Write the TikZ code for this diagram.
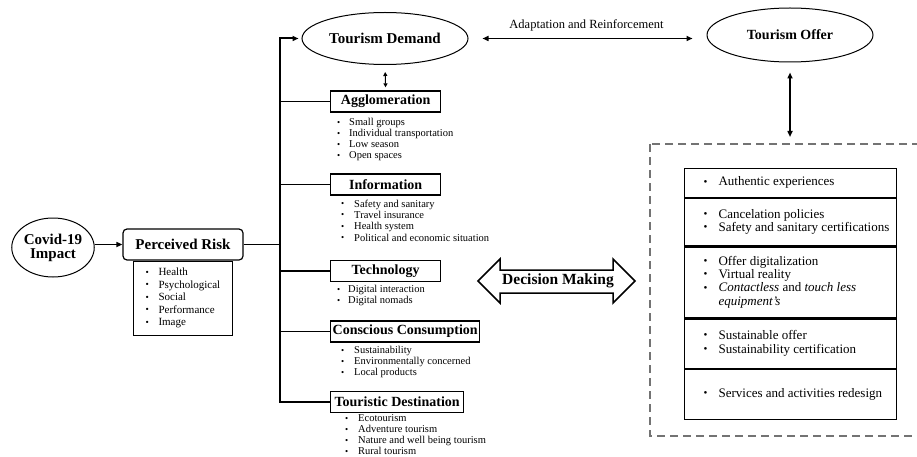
\documentclass[tikz,border=0pt]{standalone}
\usepackage{fontspec}
\setmainfont{Liberation Serif}
\usepackage{graphicx}
\usetikzlibrary{shapes.geometric,arrows.meta,calc}
\newcommand\bul{\raisebox{0.12ex}{\scalebox{0.85}{\textbullet}}}
\newcommand\bi[2]{\makebox[#1][l]{\bul}#2}
\newcommand\fs[2]{\fontsize{#1}{#2}\selectfont}
\newcommand\rowtxt[1]{\makebox[212pt][l]{\hspace{19pt}\begin{tabular}{@{}l@{}}#1\end{tabular}}}
\begin{document}
\begin{tikzpicture}[x=1pt,y=-1pt,
  ttl/.style={font=\fs{14}{16}\bfseries, draw, line width=1.3pt, minimum height=21pt, inner xsep=2pt, inner ysep=0pt, anchor=west},
  ell/.style={ellipse, draw, line width=1pt, inner sep=0pt, font=\fs{15}{14}\bfseries, align=center},
  lst/.style={anchor=north west, inner sep=0pt, font=\fs{10.5}{11}},
  row/.style={draw, line width=1.2pt, minimum width=212pt, inner xsep=0pt, inner ysep=0pt, anchor=north west, font=\fs{13}{13.3}},
  arr/.style={-{Triangle[length=6pt,width=5pt]}},
  dar/.style={{Triangle[length=6pt,width=5pt]}-{Triangle[length=6pt,width=5pt]}},
  sdar/.style={{Triangle[length=4pt,width=4pt]}-{Triangle[length=4pt,width=4pt]}},
]
\clip (0,0) rectangle (917,457);

% left part
\node[ell, minimum width=82pt, minimum height=59pt] (covid) at (53,247.5) {Covid-19\\Impact};
\node[draw, rounded corners=4pt, line width=1.2pt, minimum width=120pt, minimum height=31pt, inner sep=0pt, font=\fs{15}{16}\bfseries] (risk) at (183,244.5) {Perceived Risk};
\node[draw, line width=1.2pt, minimum width=99pt, minimum height=74pt, inner sep=0pt, anchor=north, font=\fs{11}{12.5}] (risklist) at (risk.south) {\makebox[99pt][l]{\hspace{12pt}\begin{tabular}{@{}l@{}}\bi{13pt}{Health}\\ \bi{13pt}{Psychological}\\ \bi{13pt}{Social}\\ \bi{13pt}{Performance}\\ \bi{13pt}{Image}\end{tabular}}};

% demand side
\node[ell, minimum width=166pt, minimum height=52pt] (demand) at (385,38.5) {Tourism Demand};
\node[ttl, minimum width=110pt] (agg) at (330,101.5) {Agglomeration};
\node[ttl, minimum width=110pt] (info) at (330,184.5) {Information};
\node[ttl, minimum width=110pt] (tech) at (330,271) {Technology};
\node[ttl, minimum width=149pt] (cons) at (330,331.5) {Conscious Consumption};
\node[ttl, minimum width=133pt] (dest) at (330,402) {Touristic Destination};

\node[lst] (agglist) at (337,118) {\begin{tabular}{@{}l@{}}\bi{12pt}{Small groups}\\ \bi{12pt}{Individual transportation}\\ \bi{12pt}{Low season}\\ \bi{12pt}{Open spaces}\end{tabular}};
\node[lst, font=\fs{10.5}{11.3}] (infolist) at (341,199) {\begin{tabular}{@{}l@{}}\bi{13pt}{Safety and sanitary}\\ \bi{13pt}{Travel insurance}\\ \bi{13pt}{Health system}\\ \bi{13pt}{Political and economic situation}\end{tabular}};
\node[lst] (techlist) at (337,285) {\begin{tabular}{@{}l@{}}\bi{11pt}{Digital interaction}\\ \bi{11pt}{Digital nomads}\end{tabular}};
\node[lst] (conslist) at (341,346) {\begin{tabular}{@{}l@{}}\bi{13pt}{Sustainability}\\ \bi{13pt}{Environmentally concerned}\\ \bi{13pt}{Local products}\end{tabular}};
\node[lst] (destlist) at (345,414) {\begin{tabular}{@{}l@{}}\bi{13pt}{Ecotourism}\\ \bi{13pt}{Adventure tourism}\\ \bi{13pt}{Nature and well being tourism}\\ \bi{13pt}{Rural tourism}\end{tabular}};

% connectors left
\coordinate (top) at (280,38.5);
\draw[line width=2pt, arr, shorten >=3pt] (dest.west) -- (dest.west -| top) -- (top) -- (demand.west);
\draw[line width=1.5pt] (agg.west -| top) -- (agg.west);
\draw[line width=1.5pt] (info.west -| top) -- (info.west);
\draw[line width=1.5pt] (tech.west -| top) -- (tech.west);
\draw[line width=1.5pt] (cons.west -| top) -- (cons.west);
\draw[line width=1.2pt] (risk.east) -- (risk.east -| top);
\draw[line width=1.5pt, arr] (covid.east |- risk.west) -- (risk.west);
\draw[line width=1pt, sdar, shorten <=7pt, shorten >=3pt] (demand.south) -- (agg.north);

% offer side
\node[ell, minimum width=166pt, minimum height=54pt, font=\fs{14}{16}\bfseries] (offer) at (790,35) {Tourism Offer};
\draw[line width=1.8pt, dar, shorten <=14pt, shorten >=14pt] (demand.east) -- (demand.east -| offer.west);
\node[font=\fs{12.5}{14}] (adapt) at (586.5,25.5) {Adaptation and Reinforcement};
\coordinate (dtop) at (790,144);
\draw[line width=1.8pt, dar, shorten <=10pt, shorten >=7pt] (offer.south) -- (dtop);
\draw[black!55, line width=2pt, dash pattern=on 8pt off 5pt] (650,144) rectangle (935,436);

\node[row, minimum height=29pt] (r1) at (684,168) {\rowtxt{\bi{15pt}{Authentic experiences}}};
\node[row, minimum height=47pt] (r2) at (r1.south west) {\rowtxt{\bi{15pt}{Cancelation policies}\\ \bi{15pt}{Safety and sanitary certifications}}};
\node[row, minimum height=71pt] (r3) at (r2.south west) {\rowtxt{\bi{15pt}{Offer digitalization}\\ \bi{15pt}{Virtual reality}\\ \bi{15pt}{\textit{Contactless} and \textit{touch less}}\\ \hspace*{15pt}\textit{equipment’s}}};
\node[row, minimum height=49pt] (r4) at (r3.south west) {\rowtxt{\bi{15pt}{Sustainable offer}\\ \bi{15pt}{Sustainability certification}}};
\node[row, minimum height=50pt] (r5) at (r4.south west) {\rowtxt{\bi{15pt}{Services and activities redesign}}};

% decision making
\draw[line width=1.5pt, line join=miter] (478,281) -- (500,259) -- (500,270) -- (613,270) -- (613,259) -- (635,281) -- (613,303) -- (613,293) -- (500,293) -- (500,303) -- cycle;
\node[font=\fs{15.5}{16}\bfseries] (dm) at (558,281) {Decision Making};
\end{tikzpicture}
\end{document}
